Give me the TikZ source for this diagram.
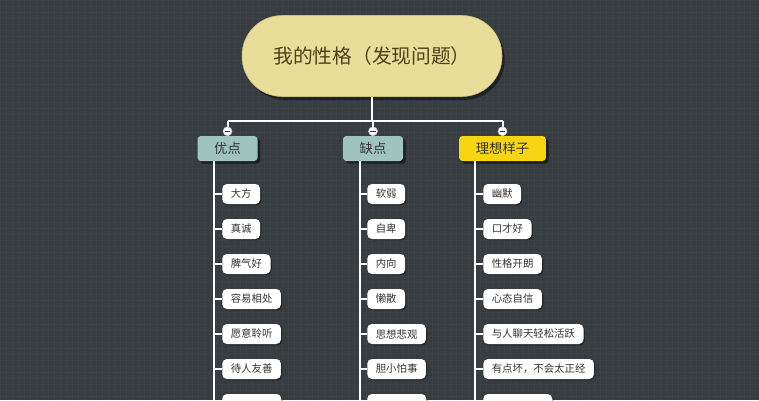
\documentclass[tikz,border=0pt]{standalone}
\usepackage{fontspec}
\setmainfont{Noto Sans CJK SC}
\usepackage{xcolor}
\usetikzlibrary{positioning,shadows,calc}
\definecolor{bgdark}{HTML}{373C40}
\definecolor{bggrid}{HTML}{3C4145}
\definecolor{rootfill}{HTML}{E9DD9A}
\definecolor{rootline}{HTML}{CDBE78}
\definecolor{roottext}{HTML}{4E4018}
\definecolor{sage}{HTML}{9FC4BE}
\definecolor{gold}{HTML}{F8D512}
\definecolor{inktext}{HTML}{333333}
\tikzset{
  rootbox/.style={rectangle, rounded corners=30pt, draw=rootline, fill=rootfill,
                  minimum width=195pt, minimum height=60.75pt, text=roottext,
                  font=\fontsize{14.8}{17}\selectfont,
                  drop shadow={shadow xshift=2pt, shadow yshift=-2.5pt, opacity=.45, fill=black}},
  catbox/.style ={rectangle, rounded corners=2.5pt, fill=sage, text=inktext,
                  minimum height=18.75pt, inner xsep=12.5pt, inner ysep=0pt,
                  font=\fontsize{10}{12}\selectfont,
                  drop shadow={shadow xshift=2pt, shadow yshift=-2pt, opacity=.5, fill=black}},
  leaf/.style    ={rectangle, rounded corners=3.5pt, fill=white, text=inktext,
                  minimum height=15pt, inner xsep=6.4pt, inner ysep=0pt, anchor=west,
                  font=\fontsize{7.8}{9}\selectfont,
                  drop shadow={shadow xshift=1pt, shadow yshift=-1pt, opacity=.35, fill=black}},
  link/.style    ={draw=white, line width=1.5pt},
  toggle/.style  ={circle, fill=white, draw=gray!55, line width=.4pt, minimum size=6.8pt, inner sep=0pt,
                   path picture={\draw[gray!40!black, line width=.9pt]
                     ([xshift=-2.2pt]path picture bounding box.center) --
                     ([xshift=2.2pt]path picture bounding box.center);}},
}

\begin{document}
\begin{tikzpicture}[x=0.75pt, y=-0.75pt]
\useasboundingbox (0,0) rectangle (759,400);
\clip (0,0) rectangle (759,400);
\fill[bgdark] (0,0) rectangle (759,400);
\draw[bggrid, line width=.35pt, step=4.5pt] (0,0) grid (759,400);

% root and the three categories
\node[rootbox] (root) at (372,56) {我的性格（发现问题）};
\node[catbox] (youdian) at (227.5,148.5) {优点};
\node[catbox] (quedian) at (373,148.5) {缺点};
\node[catbox, fill=gold] (lixiang) at (502.5,148.5) {理想样子};

\coordinate (bus) at (372,121);
\draw[link] (root.south) -- (root.south |- bus);
\draw[link] (youdian.north |- bus) -- (lixiang.north |- bus);
\draw[link] (youdian.north |- bus) -- (youdian.north);
\draw[link] (quedian.north |- bus) -- (quedian.north);
\draw[link] (lixiang.north |- bus) -- (lixiang.north);
\node[toggle] (tg1) at ($(youdian.north)+(0,-4.5)$) {};
\node[toggle] (tg2) at ($(quedian.north)+(0,-4.5)$) {};
\node[toggle] (tg3) at ($(lixiang.north)+(0,-4.5)$) {};

% trunks
\coordinate (trA) at (214,400);
\coordinate (trB) at (360,400);
\coordinate (trC) at (475,400);
\draw[link] (youdian.south -| trA) -- (trA);
\draw[link] (quedian.south -| trB) -- (trB);
\draw[link] (lixiang.south -| trC) -- (trC);

% leaves
\foreach \t [count=\i] in {大方,真诚,脾气好,容易相处,愿意聆听,待人友善}{
  \node[leaf] (a\i) at (222,159+35*\i) {\t};
  \draw[link] (a\i.west -| trA) -- (a\i.west);
}
\foreach \t [count=\i] in {软弱,自卑,内向,懒散,思想悲观,胆小怕事}{
  \node[leaf] (b\i) at (367,159+35*\i) {\t};
  \draw[link] (b\i.west -| trB) -- (b\i.west);
}
\foreach \t [count=\i] in {幽默,口才好,性格开朗,心态自信,与人聊天轻松活跃,有点坏，不会太正经}{
  \node[leaf] (c\i) at (483,159+35*\i) {\t};
  \draw[link] (c\i.west -| trC) -- (c\i.west);
}
% cut rows at the bottom edge
\node[leaf, minimum width=44.25pt] (a7) at (222,404) {};
\node[leaf, minimum width=44.25pt] (b7) at (367,404) {};
\node[leaf, minimum width=51.75pt] (c7) at (483,404) {};
\draw[link] (a7.west -| trA) -- (a7.west);
\draw[link] (b7.west -| trB) -- (b7.west);
\draw[link] (c7.west -| trC) -- (c7.west);
\end{tikzpicture}
\end{document}
